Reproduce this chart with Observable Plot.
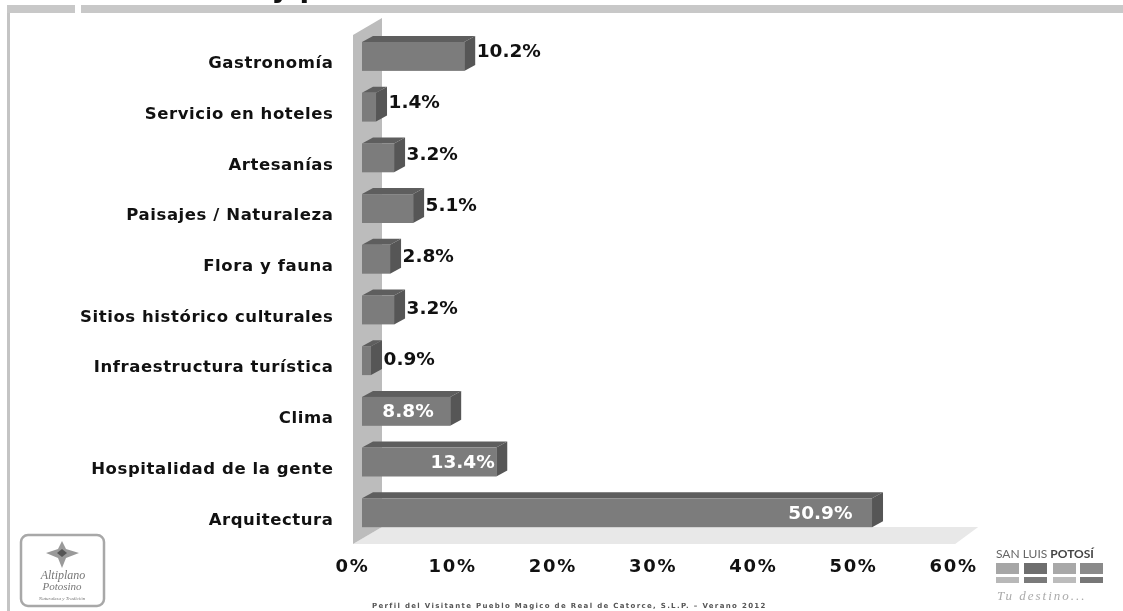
<!DOCTYPE html>
<html><head><meta charset="utf-8">
<script src="https://cdn.jsdelivr.net/npm/d3@7"></script>
<script src="https://cdn.jsdelivr.net/npm/@observablehq/plot@0.6"></script>
<style>
html,body{margin:0;padding:0;background:#fff;overflow:hidden}
svg{display:block;filter:blur(0.45px)}
g[aria-label="y-axis tick label"] text{letter-spacing:0.58px}
g[aria-label="x-axis tick label"] text{letter-spacing:1.7px}
</style></head><body>
<div id="chart"></div>
<script>
const categories = ["Gastronomía","Servicio en hoteles","Artesanías","Paisajes / Naturaleza","Flora y fauna","Sitios histórico culturales","Infraestructura turística","Clima","Hospitalidad de la gente","Arquitectura"];
const values = [10.2,1.4,3.2,5.1,2.8,3.2,0.9,8.8,13.4,50.9];
const valueLabels = ["10.2%","1.4%","3.2%","5.1%","2.8%","3.2%","0.9%","8.8%","13.4%","50.9%"];
const insideLabels = ["Clima","Hospitalidad de la gente","Arquitectura"];
const xTicks = [0,10,20,30,40,50,60];
const footnote = "Perfil del Visitante Pueblo Magico de Real de Catorce, S.L.P. – Verano 2012";
const rows = categories.map((c,i)=>({c,v:values[i],l:valueLabels[i],i}));

const FONT = "'DejaVu Sans',Verdana,sans-serif";
const DX = 11, DY = 6;                 // bar extrusion
const NS = "http://www.w3.org/2000/svg";
function el(parent,tag,attrs,text){
  const e=document.createElementNS(NS,tag);
  for(const k in attrs) e.setAttribute(k,attrs[k]);
  if(text!=null) e.textContent=text;
  parent.appendChild(e); return e;
}
const poly=(g,pts,fill)=>el(g,"polygon",{points:pts.map(p=>p.join(",")).join(" "),fill});

function backdrop(index,scales){
  const g=document.createElementNS(NS,"g");
  el(g,"rect",{x:7,y:5,width:3,height:606,fill:"#c4c4c4"});
  el(g,"rect",{x:7,y:5,width:68,height:8,fill:"#c8c8c8"});
  el(g,"rect",{x:81,y:5,width:1042,height:8,fill:"#c8c8c8"});
  const x0=scales.x(0), x6=scales.x(60);
  const yTop=18, yBack=527, yFront=544;
  poly(g,[[x0-9,yFront],[x6-8,yFront],[x6+15,yBack],[x0+20,yBack]],"#e8e8e8");
  poly(g,[[x0-9,yTop+17],[x0+20,yTop],[x0+20,yBack],[x0-9,yFront]],"#bcbcbc");
  return g;
}
function faces(index,scales){
  const g=document.createElementNS(NS,"g");
  const bw=scales.scales.y.bandwidth, x0=scales.x(0);
  for(const r of rows){
    const xv=scales.x(r.v), y=scales.y(r.c);
    poly(g,[[x0,y],[x0+DX,y-DY],[xv+DX,y-DY],[xv,y]],"#5e5e5e");
    poly(g,[[xv,y],[xv+DX,y-DY],[xv+DX,y+bw-DY],[xv,y+bw]],"#565656");
  }
  return g;
}
function logos(){
  const g=document.createElementNS(NS,"g");
  g.setAttribute("text-anchor","start");
  el(g,"rect",{x:21,y:535,width:83,height:71,rx:7,fill:"#fff",stroke:"#a8a8a8","stroke-width":2.5});
  poly(g,[[62,541],[66,549],[79,553],[66,558],[62,568],[58,558],[46,553],[58,549]],"#9a9a9a");
  poly(g,[[62,549],[67,553],[62,557],[57,553]],"#555");
  const serif={"font-family":"'Liberation Serif',serif","font-style":"italic","text-anchor":"middle",fill:"#777"};
  el(g,"text",{x:63,y:579,"font-size":12,...serif},"Altiplano");
  el(g,"text",{x:62,y:590,"font-size":11,...serif},"Potosino");
  el(g,"text",{x:62,y:600,"font-size":5,...serif},"Naturaleza y Tradición");
  const lato={"font-family":"Lato,sans-serif","font-size":12,fill:"#666"};
  const t=el(g,"text",{x:996,y:558,...lato},"SAN LUIS ");
  el(t,"tspan",{"font-weight":"bold",fill:"#444"},"POTOSÍ");
  [[996,"#a6a6a6","#b8b8b8"],[1024,"#6e6e6e","#7a7a7a"],[1053,"#a8a8a8","#bcbcbc"],[1080,"#8a8a8a","#777"]].forEach(([x,a,b])=>{
    el(g,"rect",{x,y:563,width:23,height:11,fill:a});
    el(g,"rect",{x,y:577,width:23,height:6,fill:b});
  });
  el(g,"text",{x:997,y:600,"font-family":"'Liberation Serif',serif","font-style":"italic","font-size":13,"letter-spacing":2,fill:"#aaa"},"Tu destino...");
  el(g,"text",{x:372,y:608,"font-family":FONT,"font-weight":"bold","font-size":7,"letter-spacing":1.33,fill:"#555"},footnote);
  return g;
}

const labelNudge={ "13.4%":15, "50.9%":-3 };
const plot = Plot.plot({
  width:1123,height:611,
  marginLeft:333,marginRight:0,marginTop:0,marginBottom:52,
  style:{fontFamily:FONT,background:"#fff",overflow:"hidden"},
  x:{domain:[0,60],range:[362,963.2],label:null},
  y:{domain:categories,range:[20.2,549],padding:0.43,round:false,label:null},
  marks:[
    backdrop,
    faces,
    Plot.barX(rows,{x:"v",y:"c",fill:"#7c7c7c"}),
    Plot.axisY({tickSize:0,tickPadding:0,dy:6,label:null,fontSize:16.5,fontWeight:"bold",fill:"#111"}),
    Plot.axisX({ticks:xTicks,tickFormat:d=>d+"%",tickSize:0,tickPadding:0,dx:-10,label:null,fontSize:18,fontWeight:"bold",fill:"#111"}),
    ...rows.map(r=>{
      const inside=insideLabels.includes(r.c);
      return Plot.text([r],{x:"v",y:"c",text:"l",
        textAnchor:inside?"end":"start",
        dx:(inside?-17+(labelNudge[r.l]||0):12),
        dy:-6+r.i*0.7,
        fill:inside?"#fff":"#111",
        fontSize:18.5,fontWeight:"bold",
        style:{letterSpacing:"2.3px"}});
    }),
    logos,
    Plot.text(["y p"],{frameAnchor:"top-left",dx:-62,dy:-23,lineAnchor:"top",textAnchor:"start",fontSize:28,fontWeight:"bold",fill:"#111"})
  ]
});
document.getElementById("chart").appendChild(plot);
</script>
</body></html>
